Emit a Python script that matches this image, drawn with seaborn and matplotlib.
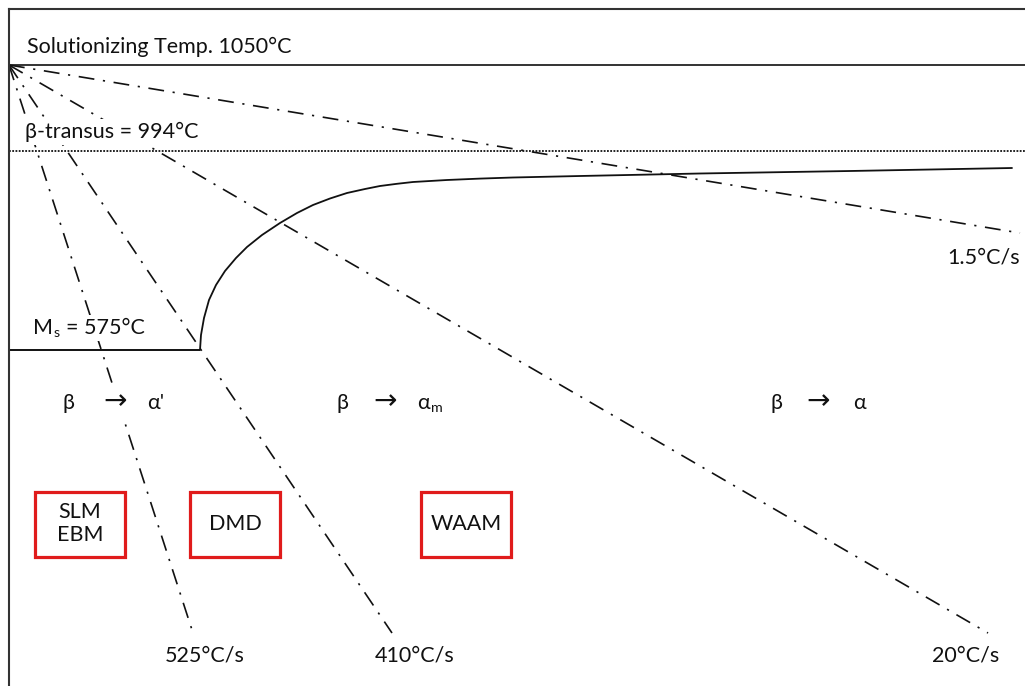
import numpy as np
import pandas as pd
import matplotlib
matplotlib.use("Agg")
import matplotlib.pyplot as plt
from matplotlib.patches import Rectangle
import seaborn as sns

# schematic CCT diagram, positions in image units (x = time, y grows downward = colder)
level_labels = ["Solutionizing Temp. 1050°C", "β-transus = 994°C", "575°C"]
level_y = [65, 151, 350]

origin_x, origin_y = 9, 65
rate_labels = ["1.5°C/s", "20°C/s", "410°C/s", "525°C/s"]
rate_end_x = [1020, 988, 392, 193]
rate_end_y = [233, 633, 633, 633]

# start of transformation
curve_x = [200, 201, 204, 209, 216, 225, 236, 247, 262, 280, 297, 313, 330, 347,
           365, 380, 397, 413, 430, 447, 480, 513, 580, 700, 850, 1012]
curve_y = [350, 335, 318, 300, 285, 271, 258, 247, 235, 223, 213, 205, 198.5, 193,
           189, 186, 183.8, 182, 181, 180, 178.6, 177.5, 176, 173.5, 171, 168]

processes = ["SLM\nEBM", "DMD", "WAAM"]

sns.set_style("white")
plt.rcParams["font.family"] = ["Lato", "DejaVu Sans"]

fig = plt.figure(figsize=(10.25, 6.86), dpi=100)
ax = fig.add_axes([9 / 1025, 0, 1016 / 1025, 677 / 686])
ax.set_xlim(9, 1025)
ax.set_ylim(686, 9)
ax.set_xticks([])
ax.set_yticks([])
for s in ["right", "bottom"]:
    ax.spines[s].set_visible(False)
for s in ["left", "top"]:
    ax.spines[s].set_color("#333333")
    ax.spines[s].set_linewidth(1.5)

ink = "#111111"
fs = 15.5
box = dict(facecolor="white", edgecolor="none", pad=2)

# temperature levels
ax.axhline(level_y[0], color="#333333", lw=1.4, zorder=2)
ax.axhline(level_y[1], color=ink, lw=1.3, linestyle=(0, (1.0, 0.8)), zorder=2)
ax.hlines(level_y[2], origin_x, curve_x[0], color=ink, lw=1.4, zorder=2)

# cooling rate lines
rows = []
for lab, ex, ey in zip(rate_labels, rate_end_x, rate_end_y):
    rows.append((lab, origin_x, origin_y))
    rows.append((lab, ex, ey))
rays = pd.DataFrame(rows, columns=["rate", "x", "y"])
sns.lineplot(data=rays, x="x", y="y", units="rate", estimator=None, sort=False,
             color=ink, lw=1.2, linestyle=(0, (9.5, 5.2, 1.3, 5.2)),
             legend=False, ax=ax, zorder=2)

# transformation start curve
sns.lineplot(x=curve_x, y=curve_y, sort=False, estimator=None, color=ink,
             lw=1.3, ax=ax, zorder=2)
ax.set_xlabel("")
ax.set_ylabel("")

# level labels
ax.text(27, 47, level_labels[0], fontsize=fs, ha="left", va="center", color=ink)
ax.text(25, 132, level_labels[1], fontsize=fs, ha="left", va="center",
        color=ink, bbox=box, zorder=4)
ax.text(33, 328, "M", fontsize=fs, ha="left", va="center", color=ink,
        bbox=box, zorder=4)
ax.text(54, 333, "s", fontsize=fs * 0.66, ha="left", va="center", color=ink,
        bbox=dict(facecolor="white", edgecolor="none", pad=1), zorder=4)
ax.text(66, 328, "= " + level_labels[2], fontsize=fs, ha="left", va="center",
        color=ink, bbox=box, zorder=4)

# transformation labels
for bx, arx, alx, alpha_txt in [(63, 103, 147, "α'"), (336, 373, 417, "α"),
                                (771, 806, 853, "α")]:
    ax.text(bx, 403, "β", fontsize=fs, ha="left", va="center", color=ink,
            bbox=box, zorder=4)
    ax.text(arx, 401, "→", fontsize=fs * 1.3, ha="left", va="center",
            color=ink, family="DejaVu Sans", bbox=box, zorder=4)
    ax.text(alx, 403, alpha_txt, fontsize=fs, ha="left", va="center",
            color=ink, bbox=box, zorder=4)
ax.text(431, 408, "m", fontsize=fs * 0.66, ha="left", va="center", color=ink,
        zorder=4)

# rate labels
rate_text_x = [1020, 999, 375, 165]
rate_text_y = [257, 655, 655, 655]
rate_text_ha = ["right", "right", "left", "left"]
for lab, tx, ty, ha in zip(rate_labels, rate_text_x, rate_text_y, rate_text_ha):
    ax.text(tx, ty, lab, fontsize=fs, ha=ha, va="center", color=ink)

# process boxes
box_x = [35, 190, 421]
box_w, box_top, box_h = 90, 492, 65
for name, x0 in zip(processes, box_x):
    ax.add_patch(Rectangle((x0, box_top), box_w, box_h, facecolor="white",
                           edgecolor="#e01b1b", lw=2.3, zorder=3))
    ax.text(x0 + box_w / 2, box_top + box_h / 2 - 1, name, fontsize=fs,
            ha="center", va="center", color=ink, linespacing=1.2, zorder=4)

fig.savefig("out.png", dpi=100)
